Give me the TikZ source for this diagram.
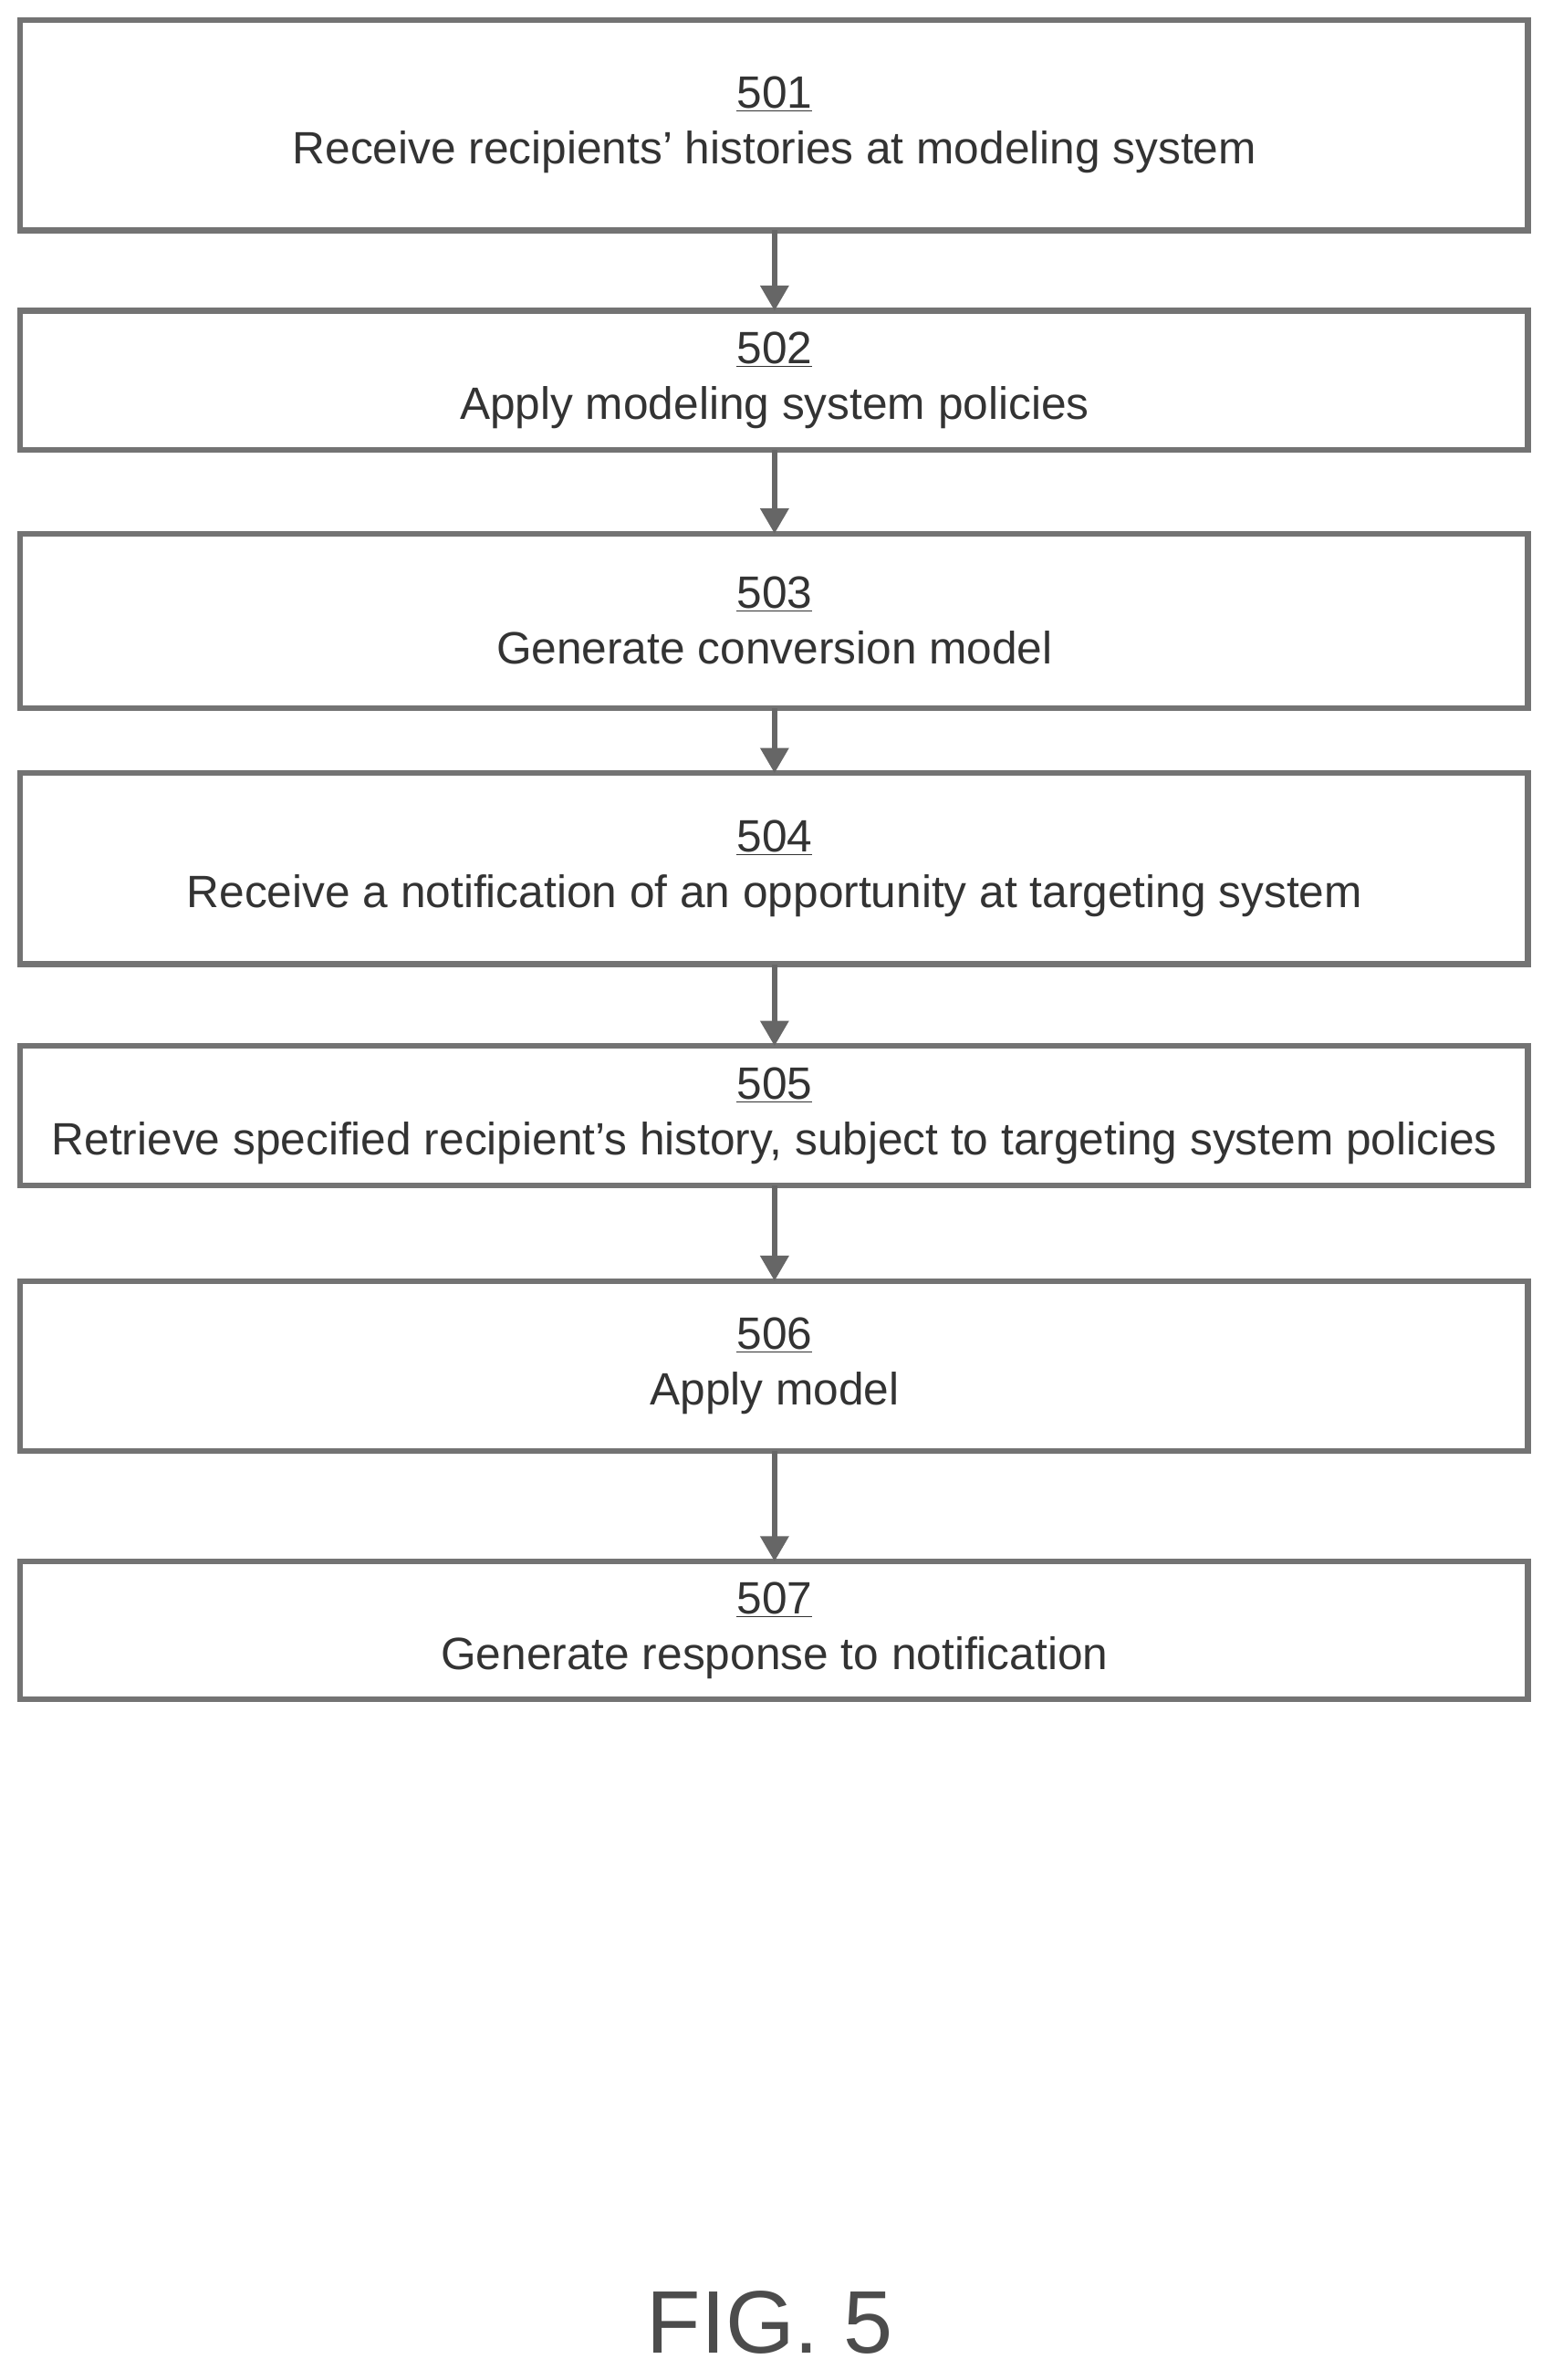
\documentclass[tikz,border=0pt]{standalone}
\usepackage{fontspec}
\setmainfont{Liberation Sans}
\usetikzlibrary{arrows.meta}
\begin{document}
\begin{tikzpicture}[x=0.03cm,y=-0.03cm,
 box/.style={draw=black!55,line width=0.11cm,fill=white},
 lbl/.style={font=\fontsize{25.5}{31.5}\selectfont,align=center,text=black!80},
 arr/.style={draw=black!60,line width=0.1cm,-{Triangle[length=0.5cm,width=0.55cm]}}]
\useasboundingbox (0,0) rectangle (1024,1570);
\def\bx#1#2#3#4{\draw[box] (13,#2) rectangle (1008,#3);
 \node[lbl] (t#1) at (511,{(#2+#3)/2}) {\underline{#1}\\#4};
 \coordinate (top#1) at (511,#2); \coordinate (bot#1) at (511,#3);}
\bx{501}{13}{152}{Receive recipients’ histories at modeling system}
\bx{502}{205}{297}{Apply modeling system policies}
\bx{503}{352}{467}{Generate conversion model}
\bx{504}{510}{636}{Receive a notification of an opportunity at targeting system}
\bx{505}{690}{782}{Retrieve specified recipient’s history, subject to targeting system policies}
\bx{506}{845}{957}{Apply model}
\bx{507}{1030}{1121}{Generate response to notification}
\draw[arr] (bot501) -- (top502);
\draw[arr] (bot502) -- (top503);
\draw[arr] (bot503) -- (top504);
\draw[arr] (bot504) -- (top505);
\draw[arr] (bot505) -- (top506);
\draw[arr] (bot506) -- (top507);
\node[font=\fontsize{50}{56}\selectfont,text=black!70] (fig) at (508,1532) {FIG. 5};
\end{tikzpicture}
\end{document}
